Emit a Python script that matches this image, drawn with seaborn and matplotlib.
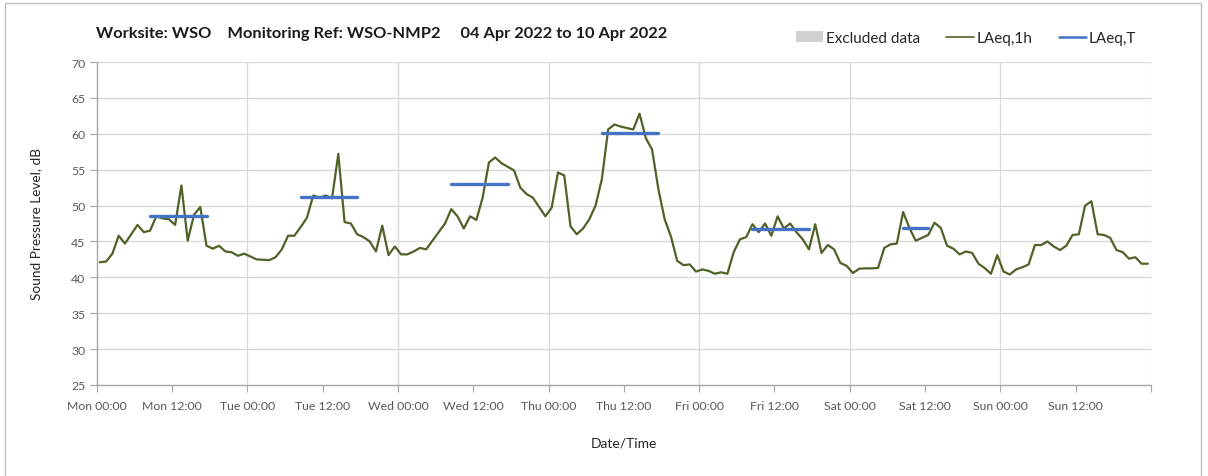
import numpy as np
import pandas as pd
import seaborn as sns
import matplotlib
matplotlib.use("Agg")
import matplotlib.pyplot as plt
from matplotlib.patches import Patch, Rectangle
from matplotlib.lines import Line2D
from matplotlib.ticker import MultipleLocator, FixedLocator

# Hourly LAeq,1h values, Mon 00:00 -> Sun 23:00 (168 hours)
laeq_1h = [
    42.1, 42.2, 43.3, 45.8, 44.7, 46.0, 47.3, 46.3, 46.5, 48.5, 48.2, 48.1,
    47.3, 52.8, 45.1, 48.7, 49.8, 44.4, 44.0, 44.4, 43.6, 43.5, 43.0, 43.3,
    42.9, 42.5, 42.45, 42.4, 42.8, 43.9, 45.8, 45.8, 47.0, 48.3, 51.4, 51.1,
    51.4, 51.0, 57.2, 47.7, 47.5, 46.0, 45.6, 45.0, 43.6, 47.2, 43.1, 44.3,
    43.2, 43.2, 43.6, 44.1, 43.9, 45.1, 46.3, 47.5, 49.5, 48.5, 46.8, 48.5,
    48.0, 51.1, 56.0, 56.7, 55.9, 55.4, 54.9, 52.5, 51.6, 51.1, 49.8, 48.5,
    49.7, 54.6, 54.2, 47.1, 46.0, 46.8, 48.1, 50.0, 53.7, 60.6, 61.3, 61.0,
    60.8, 60.6, 62.8, 59.4, 57.8, 52.3, 48.1, 45.7, 42.3, 41.7, 41.8, 40.8,
    41.1, 40.9, 40.5, 40.7, 40.5, 43.5, 45.3, 45.6, 47.4, 46.3, 47.5, 45.8,
    48.5, 46.8, 47.5, 46.3, 45.3, 43.9, 47.4, 43.4, 44.5, 43.9, 42.0, 41.6,
    40.6, 41.2, 41.25, 41.25, 41.3, 44.1, 44.6, 44.7, 49.1, 46.9, 45.1, 45.5,
    45.9, 47.6, 46.9, 44.4, 44.0, 43.2, 43.6, 43.4, 41.9, 41.3, 40.5, 43.1,
    40.8, 40.4, 41.1, 41.4, 41.8, 44.5, 44.5, 45.0, 44.3, 43.8, 44.4, 45.9,
    46.0, 50.0, 50.6, 46.0, 45.9, 45.5, 43.8, 43.5, 42.6, 42.8, 41.9, 41.9,
]

# LAeq,T over each working period (day index, first hour, last hour, level)
period_day = [0, 1, 2, 3, 4, 5]
period_first_hour = [8, 8, 8, 8, 8, 8]
period_last_hour = [17, 17, 17, 17, 17, 12]
laeq_t = [48.6, 51.25, 53.05, 60.1, 46.7, 46.85]

tick_labels = ["Mon 00:00", "Mon 12:00", "Tue 00:00", "Tue 12:00",
               "Wed 00:00", "Wed 12:00", "Thu 00:00", "Thu 12:00",
               "Fri 00:00", "Fri 12:00", "Sat 00:00", "Sat 12:00",
               "Sun 00:00", "Sun 12:00"]

title_text = ("Worksite: WSO    Monitoring Ref: WSO-NMP2     "
              "04 Apr 2022 to 10 Apr 2022")

# Hours since Mon 00:00, each value placed mid-hour
hourly = pd.DataFrame({"hour": np.arange(len(laeq_1h)) + 0.5,
                       "level": laeq_1h})

rows = []
for d, h0, h1, v in zip(period_day, period_first_hour, period_last_hour, laeq_t):
    for h in (h0, h1):
        rows.append({"period": d, "hour": d * 24 + h + 0.5, "level": v})
periods = pd.DataFrame(rows)

sns.set_theme(style="white")
plt.rcParams["font.family"] = ["Lato", "DejaVu Sans"]

GREEN = "#4F6228"
BLUE = "#4472C4"
GRID = "#D9D9D9"
AXIS = "#A6A6A6"
TEXT = "#262626"
TICK_TEXT = "#595959"

fig = plt.figure(figsize=(12.08, 4.77), dpi=100)
ax = fig.add_axes([96.7 / 1208, 1 - 386 / 477, (1151 - 96.7) / 1208, (386 - 63) / 477])

sns.lineplot(data=hourly, x="hour", y="level", ax=ax, color=GREEN,
             linewidth=1.6, estimator=None, legend=False)
sns.lineplot(data=periods, x="hour", y="level", units="period", ax=ax,
             color=BLUE, linewidth=2.4, estimator=None, legend=False)

ax.set_xlim(0, 168)
ax.set_ylim(25, 70)
ax.yaxis.set_major_locator(MultipleLocator(5))
ax.set_xticks(np.arange(0, 157, 12))
ax.set_xticklabels(tick_labels)
ax.xaxis.set_minor_locator(FixedLocator([168]))

ax.grid(False)
for y in range(30, 71, 5):
    ax.axhline(y, color=GRID, linewidth=1.0, zorder=0)
for x in range(24, 169, 24):
    ax.axvline(x, color=GRID, linewidth=1.0, zorder=0)

for side in ("top", "right"):
    ax.spines[side].set_visible(False)
for side in ("left", "bottom"):
    ax.spines[side].set_color(AXIS)
    ax.spines[side].set_linewidth(1.0)

ax.tick_params(axis="both", which="both", direction="out", length=5,
               width=0.8, color=AXIS, labelsize=8.8, labelcolor=TICK_TEXT, pad=3)
ax.tick_params(axis="x", which="both", bottom=True, pad=6)
ax.tick_params(axis="y", left=True)

ax.set_xlabel("Date/Time", fontsize=10, color=TEXT, labelpad=18)
ax.set_ylabel("Sound Pressure Level, dB", fontsize=9.8, color=TEXT, labelpad=21)

fig.text(96 / 1208, 1 - 34 / 477, title_text, fontsize=11.8,
         fontweight="bold", color="#1a1a1a", ha="left", va="center")

handles = [Patch(facecolor="#D0D0D0", edgecolor="none"),
           Line2D([0], [0], color=GREEN, linewidth=1.2),
           Line2D([0], [0], color=BLUE, linewidth=1.8)]
fig.legend(handles, ["Excluded data", "LAeq,1h", "LAeq,T"], ncol=3,
           loc="center", bbox_to_anchor=(966 / 1208, 1 - 39 / 477),
           frameon=False, fontsize=11, handlelength=1.8,
           handletextpad=0.2, columnspacing=1.7, labelcolor=TEXT)

fig.patches.append(Rectangle((5 / 1208, -0.01), (1201 - 5) / 1208, 1 - 4 / 477 + 0.01,
                             transform=fig.transFigure, fill=False,
                             edgecolor="#BFBFBF", linewidth=1.0))

fig.savefig("out.png", dpi=100, facecolor="white")
